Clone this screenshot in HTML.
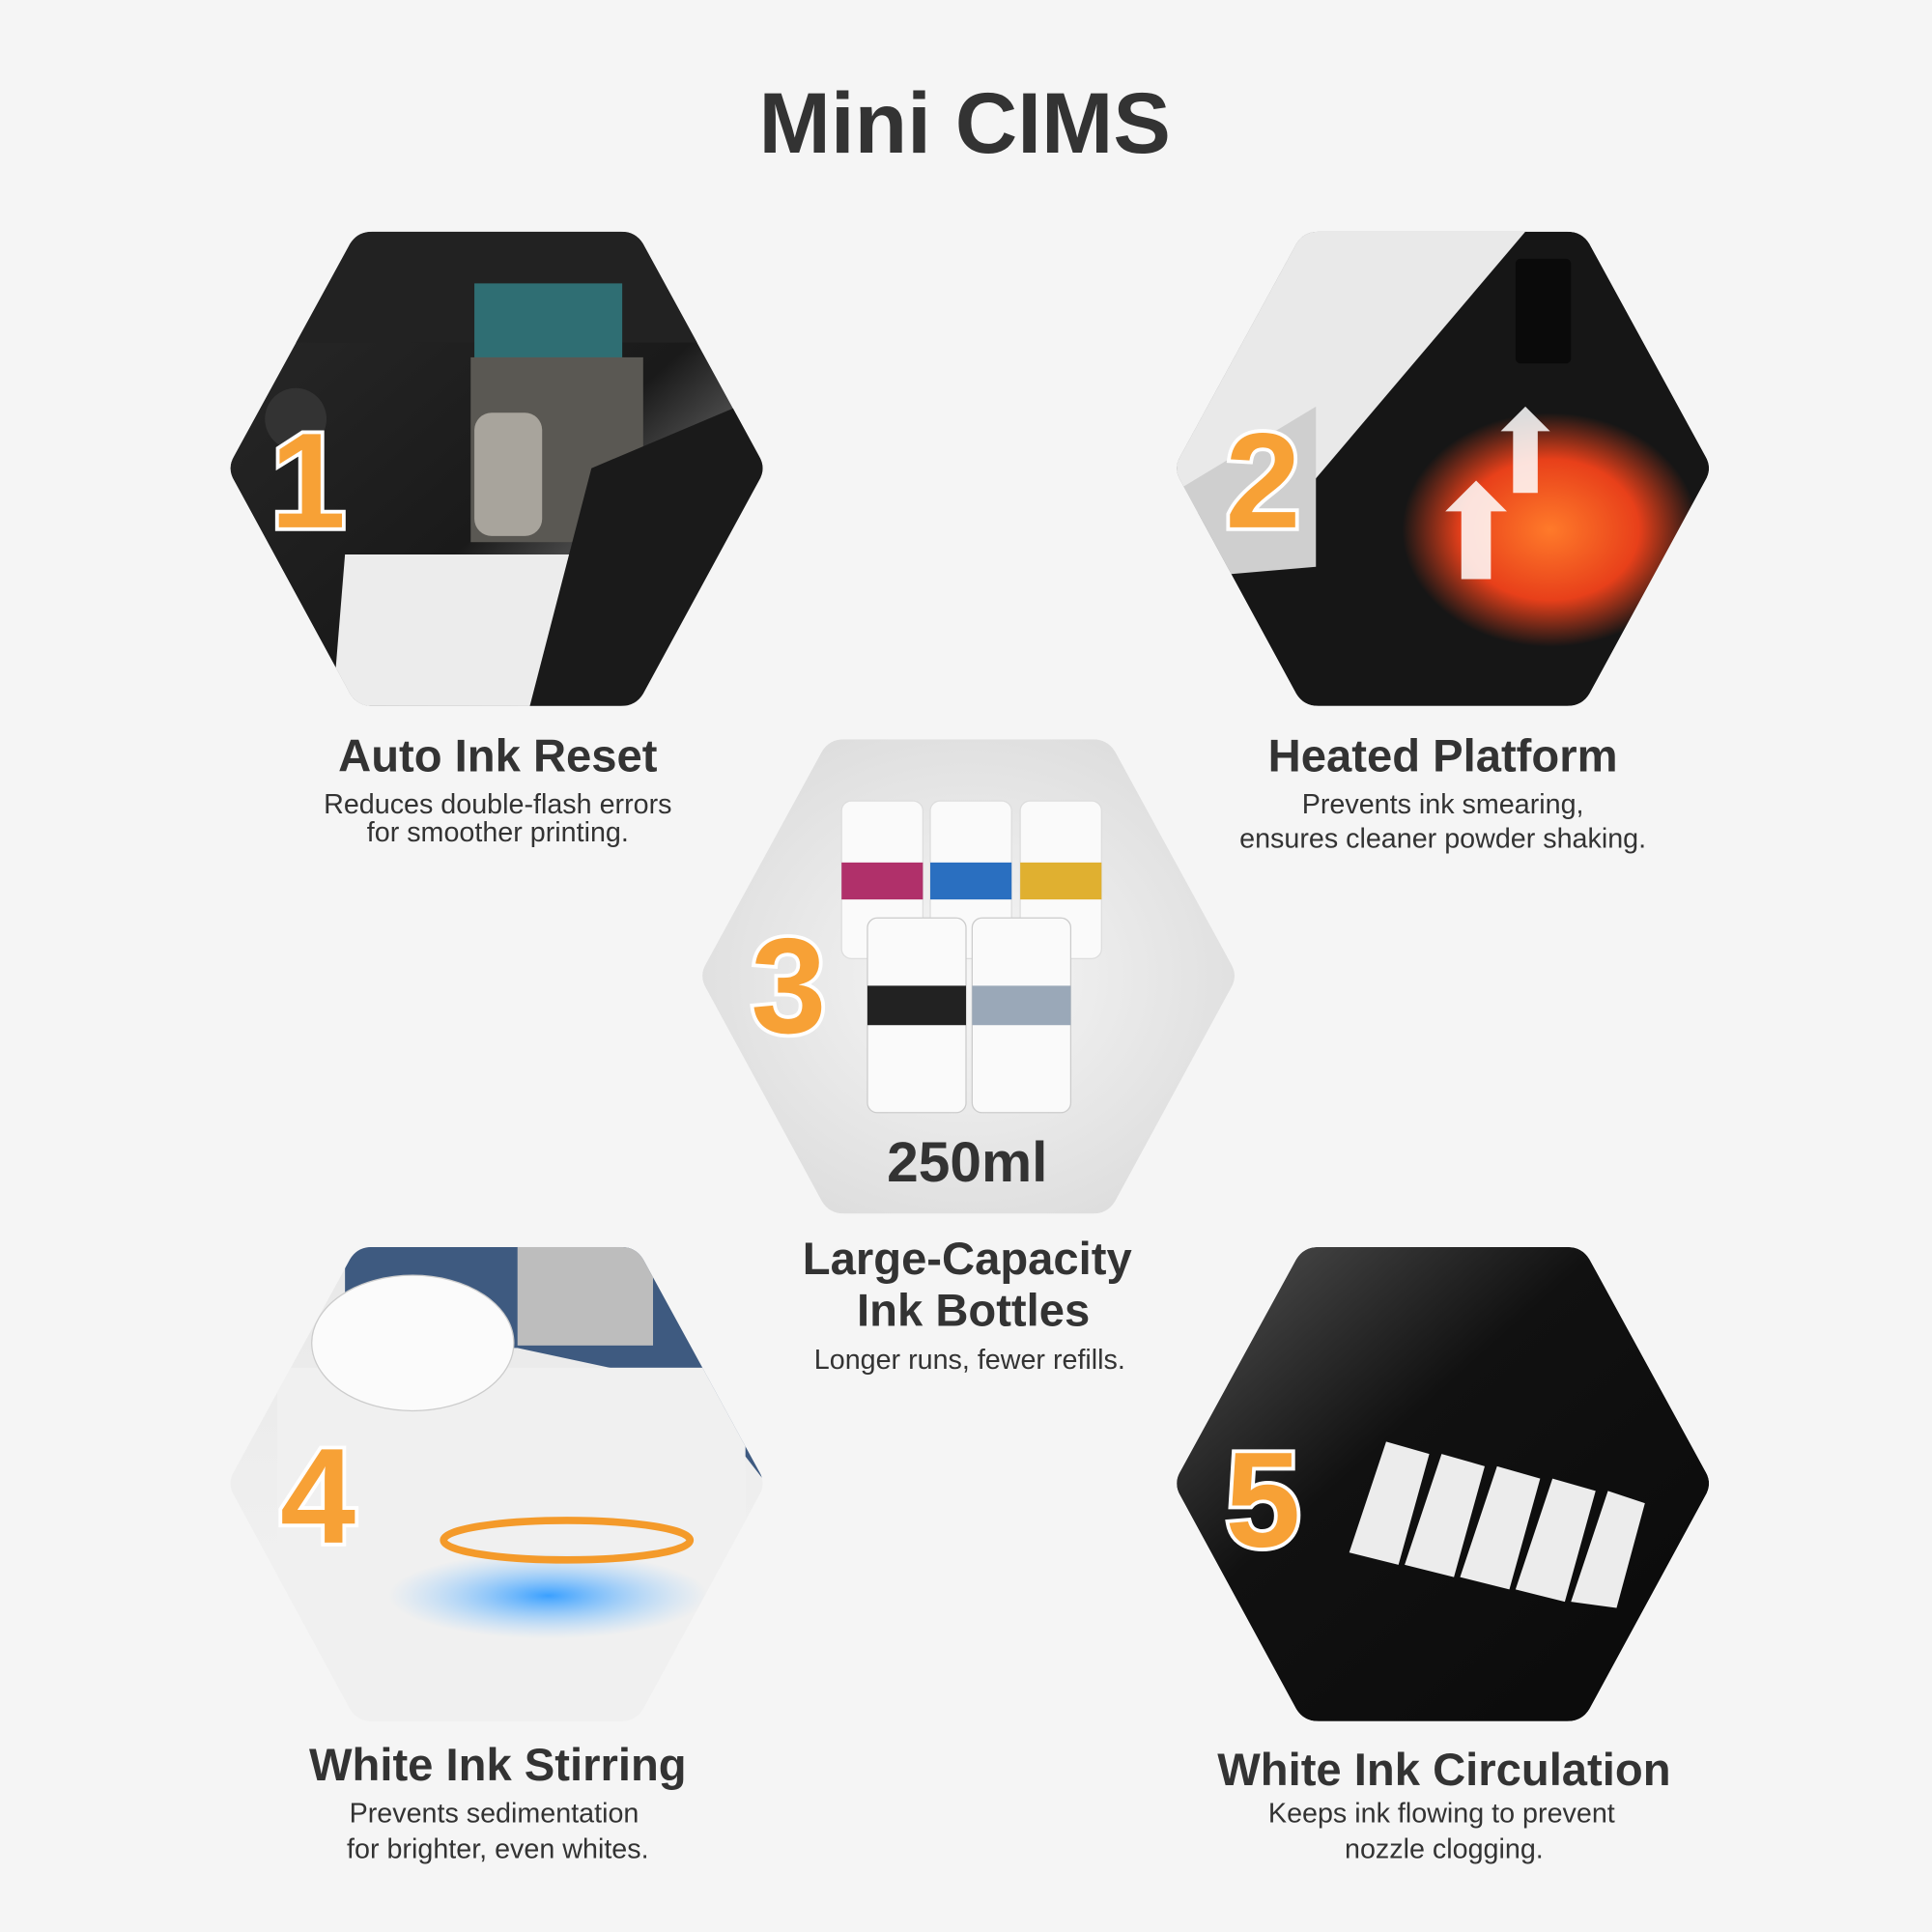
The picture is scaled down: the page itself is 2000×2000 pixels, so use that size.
<!DOCTYPE html>
<html><head><meta charset="utf-8"><style>
html,body{margin:0;padding:0;background:#f5f5f5;}
svg{display:block}
text{font-family:"Liberation Sans",sans-serif;}
</style></head><body>
<svg width="2000" height="2000" viewBox="0 0 1568 1568" xmlns="http://www.w3.org/2000/svg">
<defs>
<clipPath id="hx"><path id="hp" d="M190,370 L284,198 Q290,188 302,188 L504,188 Q516,188 522,198 L616,370 Q622,380 616,390 L522,563 Q516,573 504,573 L302,573 Q290,573 284,563 L190,390 Q184,380 190,370Z"/></clipPath>
<linearGradient id="g1" x1="0" y1="0" x2="1" y2="1"><stop offset="0" stop-color="#2a2a2a"/><stop offset="0.55" stop-color="#1a1a1a"/><stop offset="1" stop-color="#d8d8d8"/></linearGradient>
<linearGradient id="g2" x1="0" y1="0" x2="1" y2="1"><stop offset="0" stop-color="#f0f0f0"/><stop offset="0.35" stop-color="#222"/><stop offset="1" stop-color="#111"/></linearGradient>
<radialGradient id="g3" cx="0.5" cy="0.5" r="0.6"><stop offset="0" stop-color="#f6f6f6"/><stop offset="1" stop-color="#dcdcdc"/></radialGradient>
<linearGradient id="g4" x1="0" y1="0" x2="0" y2="1"><stop offset="0" stop-color="#e8e8e8"/><stop offset="1" stop-color="#f4f4f4"/></linearGradient>
<linearGradient id="g5" x1="0" y1="0" x2="1" y2="1"><stop offset="0" stop-color="#555"/><stop offset="0.4" stop-color="#111"/><stop offset="1" stop-color="#0a0a0a"/></linearGradient>
<radialGradient id="heat" cx="0.5" cy="0.5" r="0.5"><stop offset="0" stop-color="#ff7a2a"/><stop offset="0.6" stop-color="#e8401a"/><stop offset="1" stop-color="#e8401a" stop-opacity="0"/></radialGradient>
<radialGradient id="swirl" cx="0.5" cy="0.5" r="0.5"><stop offset="0" stop-color="#3aa0ff"/><stop offset="1" stop-color="#8cc8ff" stop-opacity="0"/></radialGradient>
</defs>
<rect width="1568" height="1568" fill="#f5f5f5"/>
<text x="783" y="124" font-size="70" font-weight="bold" fill="#333" text-anchor="middle">Mini CIMS</text>

<!-- hex1 -->
<g clip-path="url(#hx)">
<use href="#hp" fill="url(#g1)"/>
<rect x="184" y="188" width="438" height="90" fill="#222"/>
<rect x="385" y="230" width="120" height="65" fill="#2f6e73"/>
<rect x="382" y="290" width="140" height="150" fill="#5a5853"/>
<rect x="385" y="335" width="55" height="100" rx="14" fill="#a8a49c"/>
<path d="M280,450 L480,450 L430,573 L270,573 Z" fill="#ececec"/>
<path d="M480,380 L622,320 L622,573 L430,573 Z" fill="#1a1a1a"/>
<circle cx="240" cy="340" r="25" fill="#333"/>
</g>
<!-- hex2 -->
<g transform="translate(768,0)"><g clip-path="url(#hx)">
<use href="#hp" fill="#161616"/>
<path d="M184,188 L470,188 L290,400 L184,420Z" fill="#e9e9e9"/>
<path d="M184,400 L300,330 L300,460 L184,470Z" fill="#cfcfcf"/>
<ellipse cx="490" cy="430" rx="120" ry="95" fill="url(#heat)"/>
<rect x="462" y="210" width="45" height="85" rx="4" fill="#0a0a0a"/>
<path d="M470,330 L490,350 L480,350 L480,400 L460,400 L460,350 L450,350Z" fill="#fff" opacity="0.85"/>
<path d="M430,390 L455,415 L442,415 L442,470 L418,470 L418,415 L405,415Z" fill="#fff" opacity="0.85"/>
</g></g>
<!-- hex3 -->
<g transform="translate(383,412)"><g clip-path="url(#hx)">
<use href="#hp" fill="url(#g3)"/>
</g></g>
<rect x="683" y="650" width="66" height="128" rx="8" fill="#fafafa" stroke="#ddd"/>
<rect x="683" y="700" width="66" height="30" fill="#b0306a"/>
<rect x="755" y="650" width="66" height="128" rx="8" fill="#fafafa" stroke="#ddd"/>
<rect x="755" y="700" width="66" height="30" fill="#2a6fc0"/>
<rect x="828" y="650" width="66" height="128" rx="8" fill="#fafafa" stroke="#ddd"/>
<rect x="828" y="700" width="66" height="30" fill="#e0b030"/>
<rect x="704" y="745" width="80" height="158" rx="8" fill="#fafafa" stroke="#ccc"/>
<rect x="704" y="800" width="80" height="32" fill="#222"/>
<rect x="789" y="745" width="80" height="158" rx="8" fill="#fafafa" stroke="#ccc"/>
<rect x="789" y="800" width="80" height="32" fill="#9aa8b8"/>
<text x="785" y="959" font-size="46" font-weight="bold" fill="#333" text-anchor="middle">250ml</text>
<!-- hex4 -->
<g transform="translate(0,824)"><g clip-path="url(#hx)">
<use href="#hp" fill="url(#g4)"/>
<path d="M280,188 L622,188 L622,380 L560,300 L420,270 L280,270 Z" fill="#3e5a80"/>
<rect x="225" y="286" width="380" height="300" fill="#f0f0f0"/>
<rect x="420" y="188" width="110" height="80" fill="#bdbdbd"/>
<ellipse cx="335" cy="266" rx="82" ry="55" fill="#fbfbfb" stroke="#ccc"/>
<ellipse cx="445" cy="471" rx="130" ry="35" fill="url(#swirl)"/>
<ellipse cx="460" cy="426" rx="100" ry="16" fill="none" stroke="#f49a2a" stroke-width="6"/>
</g></g>
<!-- hex5 -->
<g transform="translate(768,824)"><g clip-path="url(#hx)">
<use href="#hp" fill="url(#g5)"/>
</g></g>
<g fill="#ececec">
<path d="M1095,1260 L1125,1170 L1160,1180 L1135,1270Z"/>
<path d="M1140,1270 L1170,1180 L1205,1190 L1180,1280Z"/>
<path d="M1185,1280 L1215,1190 L1250,1200 L1225,1290Z"/>
<path d="M1230,1290 L1260,1200 L1295,1210 L1270,1300Z"/>
<path d="M1275,1300 L1305,1210 L1335,1220 L1312,1305Z"/>
</g>

<!-- numbers -->
<g font-size="110" font-weight="bold" fill="#f7a136" stroke="#fff" stroke-width="6" paint-order="stroke" text-anchor="middle">
<text x="250" y="428">1</text>
<text x="1025" y="428">2</text>
<text x="640" y="838">3</text>
<text x="258" y="1252">4</text>
<text x="1025" y="1255">5</text>
</g>

<!-- labels -->
<g fill="#333" text-anchor="middle">
<text x="404" y="626" font-size="37" font-weight="bold">Auto Ink Reset</text>
<text x="404" y="660" font-size="22.5">Reduces double-flash errors</text>
<text x="404" y="683" font-size="22.5">for smoother printing.</text>
<text x="1171" y="626" font-size="37" font-weight="bold">Heated Platform</text>
<text x="1171" y="660" font-size="22.5">Prevents ink smearing,</text>
<text x="1171" y="688" font-size="22.5">ensures cleaner powder shaking.</text>
<text x="785" y="1034" font-size="37" font-weight="bold">Large-Capacity</text>
<text x="790" y="1076" font-size="37" font-weight="bold">Ink Bottles</text>
<text x="787" y="1111" font-size="22.5">Longer runs, fewer refills.</text>
<text x="404" y="1445" font-size="37" font-weight="bold">White Ink Stirring</text>
<text x="401" y="1479" font-size="22.5">Prevents sedimentation</text>
<text x="404" y="1508" font-size="22.5">for brighter, even whites.</text>
<text x="1172" y="1449" font-size="37" font-weight="bold">White Ink Circulation</text>
<text x="1170" y="1479" font-size="22.5">Keeps ink flowing to prevent</text>
<text x="1172" y="1508" font-size="22.5">nozzle clogging.</text>
</g>
</svg>
</body></html>
